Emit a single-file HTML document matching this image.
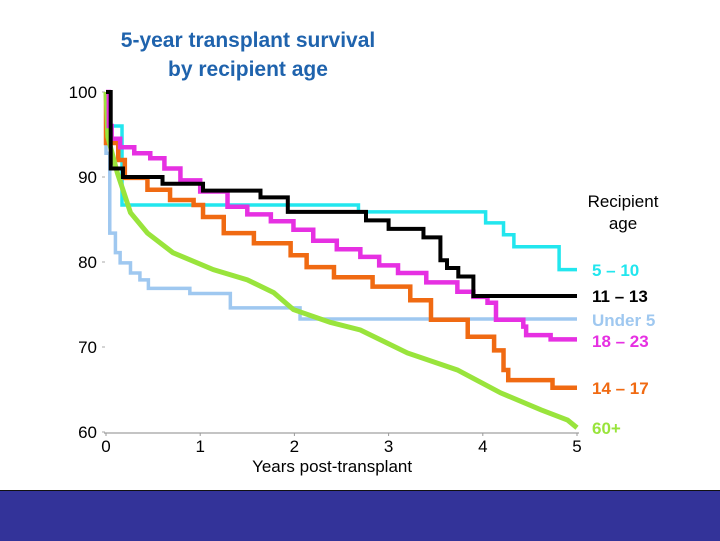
<!DOCTYPE html>
<html><head><meta charset="utf-8"><style>
html,body{margin:0;padding:0;background:#fff;}
body{width:720px;height:540px;overflow:hidden;position:relative;font-family:"Liberation Sans",Arial,sans-serif;}
#title{position:absolute;left:48px;width:400px;top:26px;text-align:center;font-weight:bold;font-size:21px;line-height:29px;color:#1f63ad;}
#band{position:absolute;left:0;top:490px;width:720px;height:50px;background:#333399;border-top:1px solid #111;}
svg{position:absolute;left:0;top:0;}
</style></head><body>
<div id="title">5-year transplant survival<br>by recipient age</div>
<svg id="chart" width="720" height="490"></svg>
<div id="band"></div>
<script>
const xTicks=[0,1,2,3,4,5];
const yTicks=[60,70,80,90,100];
const seriesNames=["5 – 10","11 – 13","Under 5","18 – 23","14 – 17","60+"];
const cyanT=[0,0.0,0.17,2.68,4.03,4.22,4.33,4.81,5];
const cyanV=[100,96,86.7,85.9,84.6,83.2,81.8,79.1,79.1];
const blackT=[0,0.05,0.18,0.6,1.03,1.64,1.93,2.76,3.0,3.37,3.55,3.62,3.74,3.9,5];
const blackV=[100,91,90,89.2,88.4,87.6,85.9,84.9,83.9,82.9,80.2,79.3,78.3,76.0,76.0];
const blueT=[0,0,0.04,0.1,0.15,0.26,0.36,0.45,0.89,1.32,2.06,5];
const blueV=[100,92.8,83.4,81.1,79.9,78.7,77.9,76.9,76.3,74.6,73.3,73.3];
const magT=[0,0.03,0.06,0.15,0.3,0.47,0.62,0.79,1.0,1.29,1.5,1.75,1.99,2.2,2.45,2.7,2.9,3.1,3.4,3.73,3.9,4.05,4.14,4.43,4.46,4.72,5];
const magV=[100,96,94.5,93.5,92.8,92.2,91,89.6,88.3,86.5,85.6,84.8,83.8,82.5,81.5,80.6,79.6,78.7,77.6,76.5,75.9,75.2,73.2,72.4,71.4,70.9,70.9];
const orT=[0,0.0,0.13,0.2,0.44,0.68,0.93,1.03,1.25,1.57,1.96,2.13,2.42,2.83,3.23,3.45,3.84,4.12,4.22,4.27,4.74,5];
const orV=[100,94,92,89.9,88.5,87.3,86.7,85.3,83.4,82.2,80.8,79.4,78.2,77.1,75.5,73.2,71.2,69.6,67.3,66.1,65.2,65.2];
const grT=[0,0.02,0.12,0.26,0.44,0.71,1.14,1.5,1.78,1.99,2.38,2.7,3.2,3.73,4.19,4.62,4.9,5];
const grV=[100,94.7,90.5,85.8,83.4,81.1,79.1,77.9,76.4,74.4,72.9,72.0,69.3,67.3,64.6,62.6,61.4,60.5];

const X0=106,XS=94.2,Y0=92,YS=8.5;
const x=t=>X0+XS*t, y=v=>Y0+YS*(100-v);
const svg=document.getElementById('chart');const NS='http://www.w3.org/2000/svg';
function mk(tag,attrs,parent){const e=document.createElementNS(NS,tag);for(const k in attrs)e.setAttribute(k,attrs[k]);(parent||svg).appendChild(e);return e;}
const ax=mk('line',{x1:x(0)-2,x2:x(5)+2,y1:y(60)+1,y2:y(60)+1,stroke:'#b0b0b0','stroke-width':1.5});


xTicks.forEach(t=>{
 const tk=mk('line',{x1:x(t),x2:x(t),y1:y(60)+1,y2:y(60)+4,stroke:'#999'});
 
 
 const tx=mk('text',{x:x(t),y:y(60)+20,'text-anchor':'middle','font-size':17,fill:'#000'});tx.textContent=t;
 
 
});
yTicks.forEach(v=>{
 const tk=mk('line',{x1:x(0)-4,x2:x(0)-1,y1:y(v),y2:y(v),stroke:'#aaa'});
 
 
 const tx=mk('text',{x:x(0)-9,y:y(v)+6,'text-anchor':'end','font-size':17,fill:'#000'});tx.textContent=v;
 
 
});
const xt=mk('text',{x:x(2.4),y:472,'text-anchor':'middle','font-size':17,fill:'#000'});xt.textContent='Years post-transplant';


function stepPath(T,V){let d=`M${x(T[0])},${y(V[0])}`;for(let i=1;i<T.length;i++){d+=` L${x(T[i])},${y(V[i-1])} L${x(T[i])},${y(V[i])}`;}return d;}
function linePath(T,V){return T.map((t,i)=>(i?'L':'M')+x(t)+','+y(V[i])).join(' ');}
const series=[
 {n:'series-5-10',d:stepPath(cyanT,cyanV),c:'#22e6ee',w:3.5},
 {n:'series-under-5',d:stepPath(blueT,blueV),c:'#9fc8f0',w:3.5},
 {n:'series-14-17',d:stepPath(orT,orV),c:'#f06a12',w:4.5},
 {n:'series-60-plus',d:linePath(grT,grV),c:'#99e43c',w:5},
 {n:'series-18-23',d:stepPath(magT,magV),c:'#e630e2',w:4.5},
 {n:'series-11-13',d:stepPath(blackT,blackV),c:'#000',w:4},
];
series.forEach(s=>{const p=mk('path',{d:s.d,fill:'none',stroke:s.c,'stroke-width':s.w,'stroke-linejoin':'miter'});
 
 });
const lt=mk('text',{x:623,y:207,'text-anchor':'middle','font-size':17,fill:'#000'});
lt.innerHTML='<tspan x="623">Recipient</tspan><tspan x="623" dy="22">age</tspan>';


const labs=[[seriesNames[0],276,'#22e6ee'],[seriesNames[1],302,'#000'],[seriesNames[2],326,'#9fc8f0'],[seriesNames[3],347,'#e630e2'],[seriesNames[4],394,'#f06a12'],[seriesNames[5],434,'#99e43c']];
labs.forEach(l=>{const t=mk('text',{x:592,y:l[1],'font-size':17,'font-weight':'bold',fill:l[2]});t.textContent=l[0];
 
 });
</script>
</body></html>
